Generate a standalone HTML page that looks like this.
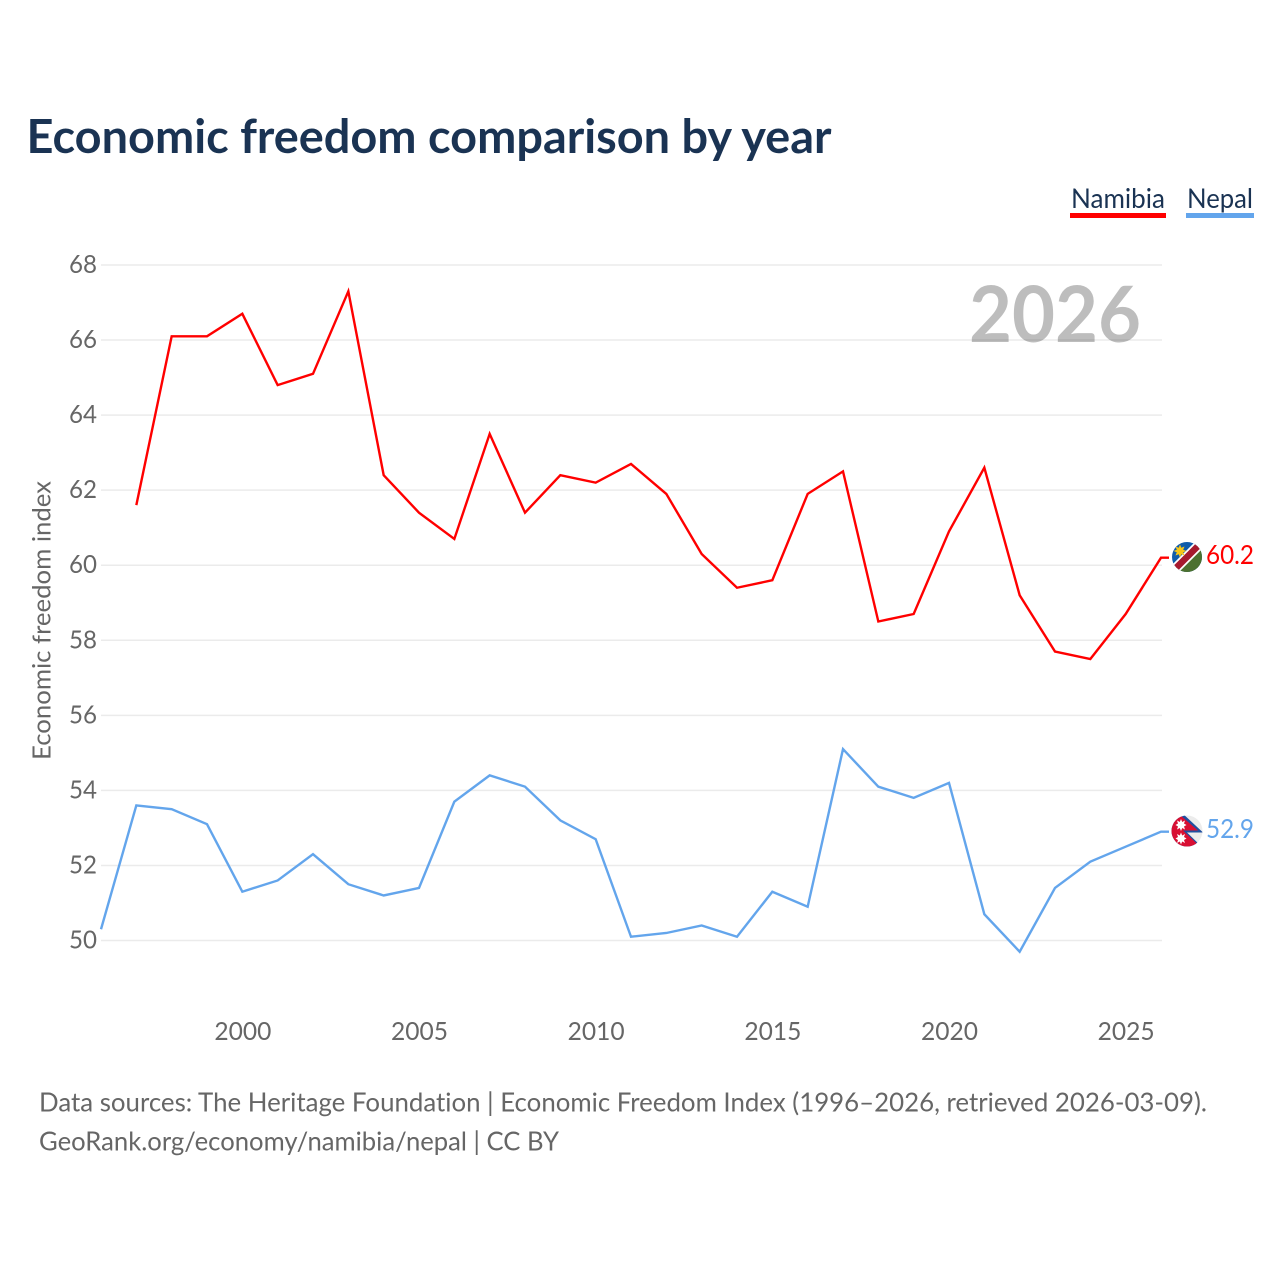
<!DOCTYPE html>
<html lang="en">
<head>
<meta charset="utf-8">
<title>Economic freedom comparison by year</title>
<style>
html,body{margin:0;padding:0;background:#fff}
svg{display:block}
text{font-family:"Lato","Carlito","Liberation Sans",sans-serif;font-variant-ligatures:none}
</style>
</head>
<body>
<svg id="chart" xmlns="http://www.w3.org/2000/svg" width="1280" height="1280" viewBox="0 0 1280 1280">
  <defs>
    <clipPath id="namibia-clip"><circle cx="1187" cy="557" r="15"/></clipPath>
    <clipPath id="nepal-clip"><circle cx="1187" cy="831" r="15.5"/></clipPath>
  </defs>
  <rect width="1280" height="1280" fill="#fff"/>
  <text x="26.5" y="153" font-size="47" font-weight="700" fill="#1a3353" textLength="805" lengthAdjust="spacingAndGlyphs">Economic freedom comparison by year</text>

  <g>
    <text x="1071" y="208" font-size="27" fill="#1a3353" textLength="94" lengthAdjust="spacingAndGlyphs">Namibia</text>
    <rect x="1070" y="213" width="96" height="5" fill="#ff0000"/>
  </g>
  <g>
    <text x="1187" y="208" font-size="27" fill="#1a3353" textLength="66" lengthAdjust="spacingAndGlyphs">Nepal</text>
    <rect x="1186" y="213" width="68" height="5" fill="#63a5ec"/>
  </g>

  <g id="grid"></g>
  <text x="969" y="342" font-size="78" font-weight="700" fill="#000" fill-opacity="0.26" textLength="172" lengthAdjust="spacingAndGlyphs">2026</text>
  <g id="y-ticks"></g>
  <g id="x-ticks"></g>
  <text transform="translate(50.5,760) rotate(-90)" x="0" y="0" font-size="25.5" fill="#666" textLength="279" lengthAdjust="spacingAndGlyphs">Economic freedom index</text>

  <g id="series"></g>

  <g clip-path="url(#namibia-clip)">
    <rect x="1172" y="542" width="30" height="30" fill="#0f5cab"/>
    <polygon points="1202,542 1202,572 1172,572" fill="#4c7130"/>
    <line x1="1168" y1="576" x2="1206" y2="538" stroke="#fff" stroke-width="10"/>
    <line x1="1168" y1="576" x2="1206" y2="538" stroke="#a6192e" stroke-width="6.5"/>
    <polygon points="1180,544.5 1181.3,547.8 1184.5,546.5 1183.2,549.7 1186.5,551 1183.2,552.3 1184.5,555.5 1181.3,554.2 1180,557.5 1178.7,554.2 1175.5,555.5 1176.8,552.3 1173.5,551 1176.8,549.7 1175.5,546.5 1178.7,547.8" fill="#f5c518"/>
  </g>
  <g clip-path="url(#nepal-clip)">
    <rect x="1171" y="815" width="32" height="32" fill="#ececec"/>
    <polygon points="1171,812 1181,812 1203,832.5 1187,832.5 1203,848 1171,848" fill="#1f4fa0"/>
    <polygon points="1171,814 1180,815 1198,830.5 1183,830.5 1200,846.5 1171,848" fill="#d80f33"/>
    <polygon points="1181,819 1182.2,822 1185,820.5 1184,823.5 1186.5,825 1184,826.5 1185,829.5 1182.2,828 1181,831 1179.8,828 1177,829.5 1178,826.5 1175.5,825 1178,823.5 1177,820.5 1179.8,822" fill="#fff"/>
    <polygon points="1181,832.5 1182.2,835.5 1185,834 1184,837 1186.5,838.5 1184,840 1185,843 1182.2,841.5 1181,844.5 1179.8,841.5 1177,843 1178,840 1175.5,838.5 1178,837 1177,834 1179.8,835.5" fill="#fff"/>
  </g>
  <text x="1206" y="564" font-size="26" fill="#ff0000" textLength="48" lengthAdjust="spacingAndGlyphs">60.2</text>
  <text x="1206" y="838" font-size="26" fill="#63a5ec" textLength="48" lengthAdjust="spacingAndGlyphs">52.9</text>

  <text x="39" y="1111.5" font-size="26.5" fill="#666" textLength="1168" lengthAdjust="spacingAndGlyphs">Data sources: The Heritage Foundation | Economic Freedom Index (1996–2026, retrieved 2026-03-09).</text>
  <text x="39" y="1150.5" font-size="26.5" fill="#666" textLength="520" lengthAdjust="spacingAndGlyphs">GeoRank.org/economy/namibia/nepal | CC BY</text>
</svg>
<script>
const namibiaYears = [1997,1998,1999,2000,2001,2002,2003,2004,2005,2006,2007,2008,2009,2010,2011,2012,2013,2014,2015,2016,2017,2018,2019,2020,2021,2022,2023,2024,2025,2026];
const namibiaValues = [61.6,66.1,66.1,66.7,64.8,65.1,67.3,62.4,61.4,60.7,63.5,61.4,62.4,62.2,62.7,61.9,60.3,59.4,59.6,61.9,62.5,58.5,58.7,60.9,62.6,59.2,57.7,57.5,58.7,60.2];
const nepalYears = [1996,1997,1998,1999,2000,2001,2002,2003,2004,2005,2006,2007,2008,2009,2010,2011,2012,2013,2014,2015,2016,2017,2018,2019,2020,2021,2022,2023,2024,2025,2026];
const nepalValues = [50.3,53.6,53.5,53.1,51.3,51.6,52.3,51.5,51.2,51.4,53.7,54.4,54.1,53.2,52.7,50.1,50.2,50.4,50.1,51.3,50.9,55.1,54.1,53.8,54.2,50.7,49.7,51.4,52.1,52.5,52.9];
const yTickValues = [50,52,54,56,58,60,62,64,66,68];
const xTickValues = [2000,2005,2010,2015,2020,2025];

const NS = 'http://www.w3.org/2000/svg';
const xScale = function (year) { return 101 + (year - 1996) * (1161 - 101) / 30; };
const yScale = function (value) { return 940.5 - (value - 50) * (940.5 - 265) / 18; };

function make(tag, parent) {
  const el = document.createElementNS(NS, tag);
  parent.appendChild(el);
  return el;
}

const gridGroup = document.getElementById('grid');
const yTickGroup = document.getElementById('y-ticks');
const xTickGroup = document.getElementById('x-ticks');
const seriesGroup = document.getElementById('series');

yTickValues.forEach(function (v) {
  const line = make('line', gridGroup);
  
  
  line.setAttribute('x1', 101);
  line.setAttribute('x2', 1162);
  line.setAttribute('y1', yScale(v));
  line.setAttribute('y2', yScale(v));
  line.setAttribute('stroke', '#ebebeb');
  line.setAttribute('stroke-width', '1.5');

  const label = make('text', yTickGroup);
  
  
  label.setAttribute('x', 69);
  label.setAttribute('y', yScale(v) + 8);
  label.setAttribute('font-size', '25.5');
  label.setAttribute('fill', '#666');
  label.setAttribute('textLength', '28');
  label.setAttribute('lengthAdjust', 'spacingAndGlyphs');
  label.textContent = String(v);
});

xTickValues.forEach(function (year) {
  const label = make('text', xTickGroup);
  
  
  label.setAttribute('x', xScale(year) - 28);
  label.setAttribute('y', 1040);
  label.setAttribute('font-size', '25.5');
  label.setAttribute('fill', '#666');
  label.setAttribute('textLength', '57');
  label.setAttribute('lengthAdjust', 'spacingAndGlyphs');
  label.textContent = String(year);
});

function drawSeries(years, values, color) {
  const pts = years.map(function (y, i) { return xScale(y).toFixed(2) + ',' + yScale(values[i]).toFixed(2); });
  const lastY = yScale(values[values.length - 1]).toFixed(2);
  pts.push((xScale(years[years.length - 1]) + 8).toFixed(2) + ',' + lastY);
  return { points: pts.join(' '), color: color };
}

const namibiaLine = drawSeries(namibiaYears, namibiaValues, '#ff0000');
const namibiaEl = make('polyline', seriesGroup);


namibiaEl.setAttribute('points', namibiaLine.points);
namibiaEl.setAttribute('fill', 'none');
namibiaEl.setAttribute('stroke', namibiaLine.color);
namibiaEl.setAttribute('stroke-width', '2.4');

const nepalLine = drawSeries(nepalYears, nepalValues, '#63a5ec');
const nepalEl = make('polyline', seriesGroup);


nepalEl.setAttribute('points', nepalLine.points);
nepalEl.setAttribute('fill', 'none');
nepalEl.setAttribute('stroke', nepalLine.color);
nepalEl.setAttribute('stroke-width', '2.4');
</script>
</body>
</html>
